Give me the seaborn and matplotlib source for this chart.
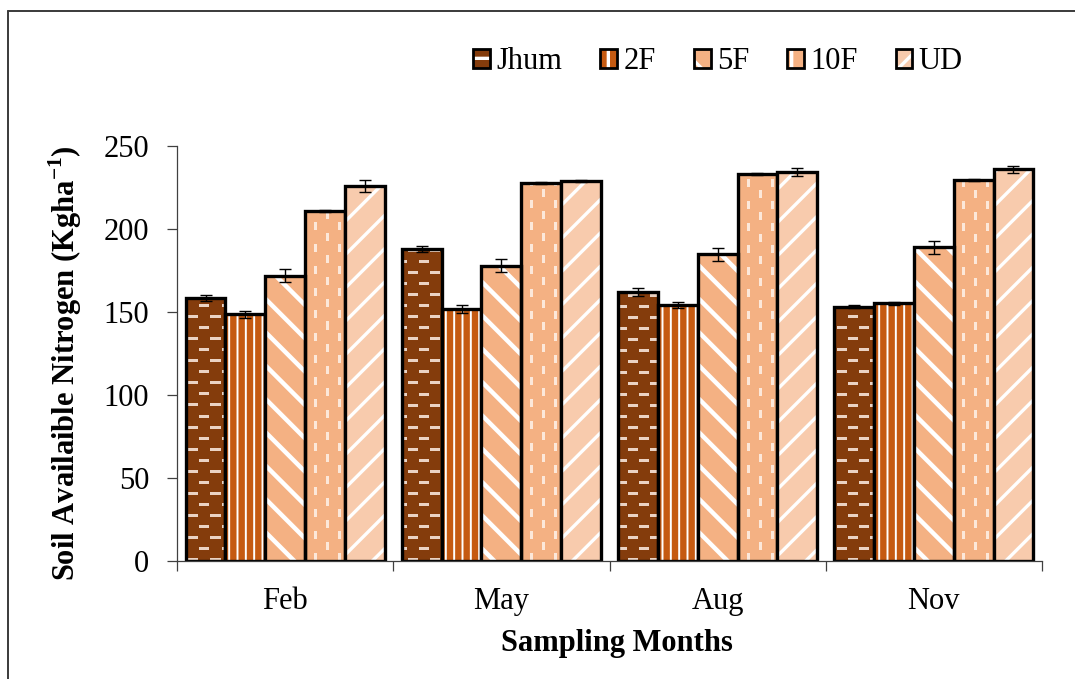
import numpy as np
import pandas as pd
import matplotlib
matplotlib.use("Agg")
import matplotlib.pyplot as plt
import matplotlib.colors as mcolors
from matplotlib.patches import Patch
from matplotlib.lines import Line2D
import seaborn as sns

# ---- data -------------------------------------------------------------
months = ["Feb", "May", "Aug", "Nov"]
sites = ["Jhum", "2F", "5F", "10F", "UD"]

jhum = [158.5, 188.0, 162.0, 153.2]
f2 = [148.6, 151.8, 154.2, 155.2]
f5 = [171.9, 177.9, 184.8, 189.0]
f10 = [211.0, 227.9, 233.1, 229.3]
ud = [226.1, 228.7, 234.3, 236.0]

jhum_err = [2.0, 2.0, 2.4, 1.0]
f2_err = [2.0, 2.6, 1.8, 1.0]
f5_err = [4.0, 4.0, 3.8, 3.9]
f10_err = [0.6, 0.6, 0.6, 0.6]
ud_err = [3.7, 0.6, 2.6, 2.0]

values = [jhum, f2, f5, f10, ud]
errors = [jhum_err, f2_err, f5_err, f10_err, ud_err]

colors = ["#843C0C", "#C55A11", "#F4B183", "#F4B183", "#F8CBAD"]

df = pd.DataFrame({
    "month": np.tile(months, len(sites)),
    "site": np.repeat(sites, len(months)),
    "value": np.concatenate(values),
})

# ---- style ------------------------------------------------------------
sns.set_theme(style="white")
plt.rcParams["font.family"] = ["Liberation Serif", "DejaVu Serif"]
plt.rcParams["mathtext.fontset"] = "custom"
plt.rcParams["mathtext.rm"] = "Liberation Serif"
plt.rcParams["mathtext.bf"] = "Liberation Serif:bold"
plt.rcParams["hatch.linewidth"] = 2.4
plt.rcParams["text.color"] = "black"
plt.rcParams["axes.labelcolor"] = "black"

W_PX, H_PX = 1075, 679
fig = plt.figure(figsize=(W_PX / 100, H_PX / 100), dpi=100)
ax_l, ax_r, ax_t, ax_b = 177, 1042, 146, 561
ax = fig.add_axes([ax_l / W_PX, 1 - ax_b / H_PX,
                   (ax_r - ax_l) / W_PX, (ax_b - ax_t) / H_PX])

sns.barplot(data=df, x="month", y="value", hue="site", order=months,
            hue_order=sites, palette=colors, width=0.92, saturation=1,
            errorbar=None, edgecolor="black", linewidth=2.4,
            legend=False, ax=ax, zorder=2)

white = mcolors.to_rgba("white")


def set_hatch(p, hatch, lw):
    p.set_hatch(hatch)
    if hasattr(p, "set_hatchcolor"):
        p.set_hatchcolor(white)
    else:
        p._hatch_color = white
    if hasattr(p, "set_hatch_linewidth"):
        p.set_hatch_linewidth(lw)


# dashed textures for Jhum (horizontal dashes) and 10F (vertical dashes)
tex_w, tex_h = ax_r - ax_l, ax_b - ax_t
yy, xx = np.mgrid[0:tex_h, 0:tex_w]


def texture(bg, fg, mask):
    img = np.empty((tex_h, tex_w, 4))
    img[:] = mcolors.to_rgba(bg)
    img[mask] = mcolors.to_rgba(fg)
    return img


row = yy // 11
jhum_mask = ((yy % 11) >= 5) & ((yy % 11) <= 7) & (((xx + (row % 2) * 11) % 22) < 10)
col = xx // 12
f10_mask = ((xx % 12) >= 5) & ((xx % 12) <= 7) & (((yy + (col % 2) * 11) % 22) < 8)

textures = {
    0: texture(colors[0], "#EBD3C4", jhum_mask),
    3: texture(colors[3], "#FCE8DA", f10_mask),
}
hatches = {1: ("||", 1.4), 2: ("\\", 3.2), 4: ("/", 2.4)}

bar_groups = list(ax.containers)

for i, cont in enumerate(bar_groups):
    for p in cont.patches:
        if i in textures:
            p.set_facecolor("none")
            im = ax.imshow(textures[i], extent=(0, 1, 0, 1),
                           transform=ax.transAxes, interpolation="nearest",
                           aspect="auto", zorder=1.5)
            im.set_clip_path(p)
        else:
            h, lw = hatches[i]
            p.set_edgecolor("black")
            set_hatch(p, h, lw)

# error bars on the bar tops
for i, cont in enumerate(bar_groups):
    xs = [p.get_x() + p.get_width() / 2 for p in cont.patches]
    ys = [p.get_height() for p in cont.patches]
    ax.errorbar(xs, ys, yerr=errors[i], fmt="none", ecolor="black",
                elinewidth=1.0, capsize=4.5, capthick=1.0, zorder=3)

# ---- axes -------------------------------------------------------------
ax.set_xlim(-0.5, len(months) - 0.5)
ax.set_ylim(0, 250)
ax.set_yticks([0, 50, 100, 150, 200, 250])
for s in ["top", "right"]:
    ax.spines[s].set_visible(False)
for s in ["left", "bottom"]:
    ax.spines[s].set_color("#404040")
    ax.spines[s].set_linewidth(0.9)
    ax.spines[s].set_zorder(2.5)

ax.set_xticks(np.arange(len(months)))
ax.set_xticklabels(months)
ax.set_xticks(np.arange(len(months) + 1) - 0.5, minor=True)
ax.tick_params(axis="x", which="major", length=0, pad=19, labelsize=22,
               labelcolor="black")
ax.tick_params(axis="x", which="minor", length=7, width=0.9, direction="out",
               color="#404040", bottom=True)
ax.tick_params(axis="y", length=7, width=0.9, direction="out", pad=13,
               labelsize=22, labelcolor="black", color="#404040", left=True)

ax.set_xlabel("Sampling Months", fontsize=22, fontweight="bold",
              color="black")
ax.xaxis.set_label_coords(0.509, -0.165)
ax.set_ylabel(r"Soil Availaible Nitrogen (Kgha$^{\mathbf{-1}}$)",
              fontsize=22, fontweight="bold", color="black")
ax.yaxis.set_label_coords(-0.108, 0.477)

# ---- legend -----------------------------------------------------------
leg_hatch = ["-", "|", "\\", "|", "/"]
handles = []
for c, h, name in zip(colors, leg_hatch, sites):
    hp = Patch(facecolor=c, edgecolor="black", linewidth=2.0, label=name)
    set_hatch(hp, h, 1.5)
    handles.append(hp)
leg = fig.legend(handles=handles, loc="center", bbox_to_anchor=(0.668, 0.909),
                 ncol=5, frameon=False, fontsize=22, handlelength=0.55,
                 handleheight=0.55, handletextpad=0.2, columnspacing=1.25)
for t in leg.get_texts():
    t.set_color("black")

# ---- outer frame (left and top edges) ----------------------------------
fx, fy = 8 / W_PX, 1 - 11 / H_PX
fig.add_artist(Line2D([fx, fx], [0, fy], transform=fig.transFigure,
                      color="#3a3a3a", linewidth=1.4))
fig.add_artist(Line2D([fx, 1], [fy, fy], transform=fig.transFigure,
                      color="#3a3a3a", linewidth=1.4))

fig.savefig("out.png", dpi=100)
